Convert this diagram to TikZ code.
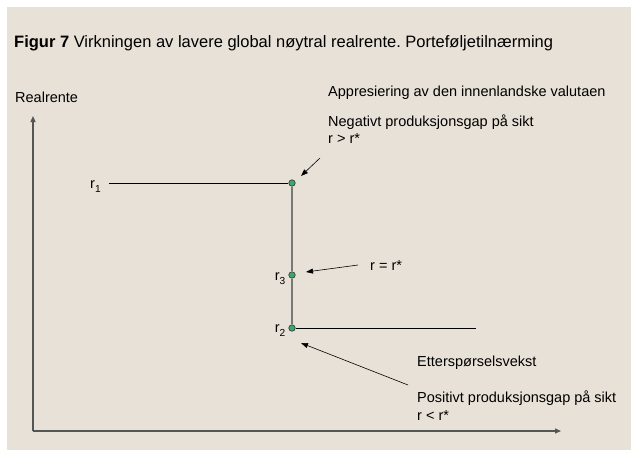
\documentclass[tikz,border=0pt]{standalone}
\usepackage{fontspec}
\setmainfont{Liberation Sans}
\usetikzlibrary{arrows.meta}
\frenchspacing
\definecolor{bgbeige}{RGB}{232,225,215}
\definecolor{dotgreen}{RGB}{58,168,108}
\definecolor{axisgray}{RGB}{85,85,85}
\definecolor{vgray}{RGB}{120,120,120}
\begin{document}
\begin{tikzpicture}[x=1pt,y=-1pt,
  lbl/.style={anchor=west,inner sep=0pt,font=\fontsize{14.5}{17}\selectfont},
  dotnode/.style={circle,draw=black!80,fill=dotgreen,line width=0.6pt,inner sep=0pt,minimum size=6.5pt},
  axisline/.style={draw=axisgray,line width=1.3pt,-{Triangle[length=6pt,width=5pt]}},
  pointer/.style={draw=black,line width=0.6pt,-{Triangle[length=7pt,width=5pt]}},
  curve/.style={draw=black,line width=1pt}]
\useasboundingbox (0,0) rectangle (631,450);
\fill[bgbeige] (7,7) rectangle (631,450);
% title
\node[lbl,anchor=base west,font=\fontsize{16.5}{19}\selectfont] (title) at (14,47) {\textbf{Figur 7} Virkningen av lavere global nøytral realrente. Porteføljetilnærming};
% axes
\coordinate (O) at (33,431);
\coordinate (ytop) at (33,116);
\coordinate (xend) at (561,431);
\draw[axisline] (O) -- (ytop);
\draw[axisline] (O) -- (xend);
\node[lbl] (ylab) at (15,97) {Realrente};
% curve
\coordinate (L1) at (109,183);
\coordinate (L2) at (476,328);
\node[dotnode] (p1) at (292,183) {};
\node[dotnode] (p3) at (292,275) {};
\node[dotnode] (p2) at (292,328) {};
\draw[curve] (L1) -- (p1);
\draw[draw=vgray,line width=1.2pt] (p1) -- (p3) -- (p2);
\draw[curve] (p2) -- (L2);
\node[lbl] (r1) at (90,187) {r\textsubscript{\raisebox{-2pt}{1}}};
\node[lbl,anchor=east] (r3) at (286,279) {r\textsubscript{\raisebox{-2pt}{3}}};
\node[lbl,anchor=east] (r2) at (286,331) {r\textsubscript{\raisebox{-2pt}{2}}};
% texts
\node[lbl] (t1) at (328,93) {Appresiering av den innenlandske valutaen};
\node[lbl] (t2) at (328,122) {Negativt produksjonsgap på sikt};
\node[lbl] (t3) at (328,139) {r > r*};
\node[lbl] (t4) at (370,266) {r = r*};
\node[lbl] (t5) at (417,363) {Etterspørselsvekst};
\node[lbl] (t6) at (417,398) {Positivt produksjonsgap på sikt};
\node[lbl] (t7) at (417,416) {r < r*};
% pointers
\coordinate (a1s) at (320,158);
\coordinate (a1e) at (301,176);
\coordinate (a3s) at (358,265);
\coordinate (a3e) at (306,272);
\coordinate (a2s) at (408,385);
\coordinate (a2e) at (301,343);
\draw[pointer] (a1s) -- (a1e);
\draw[pointer] (a3s) -- (a3e);
\draw[pointer] (a2s) -- (a2e);
\end{tikzpicture}
\end{document}
